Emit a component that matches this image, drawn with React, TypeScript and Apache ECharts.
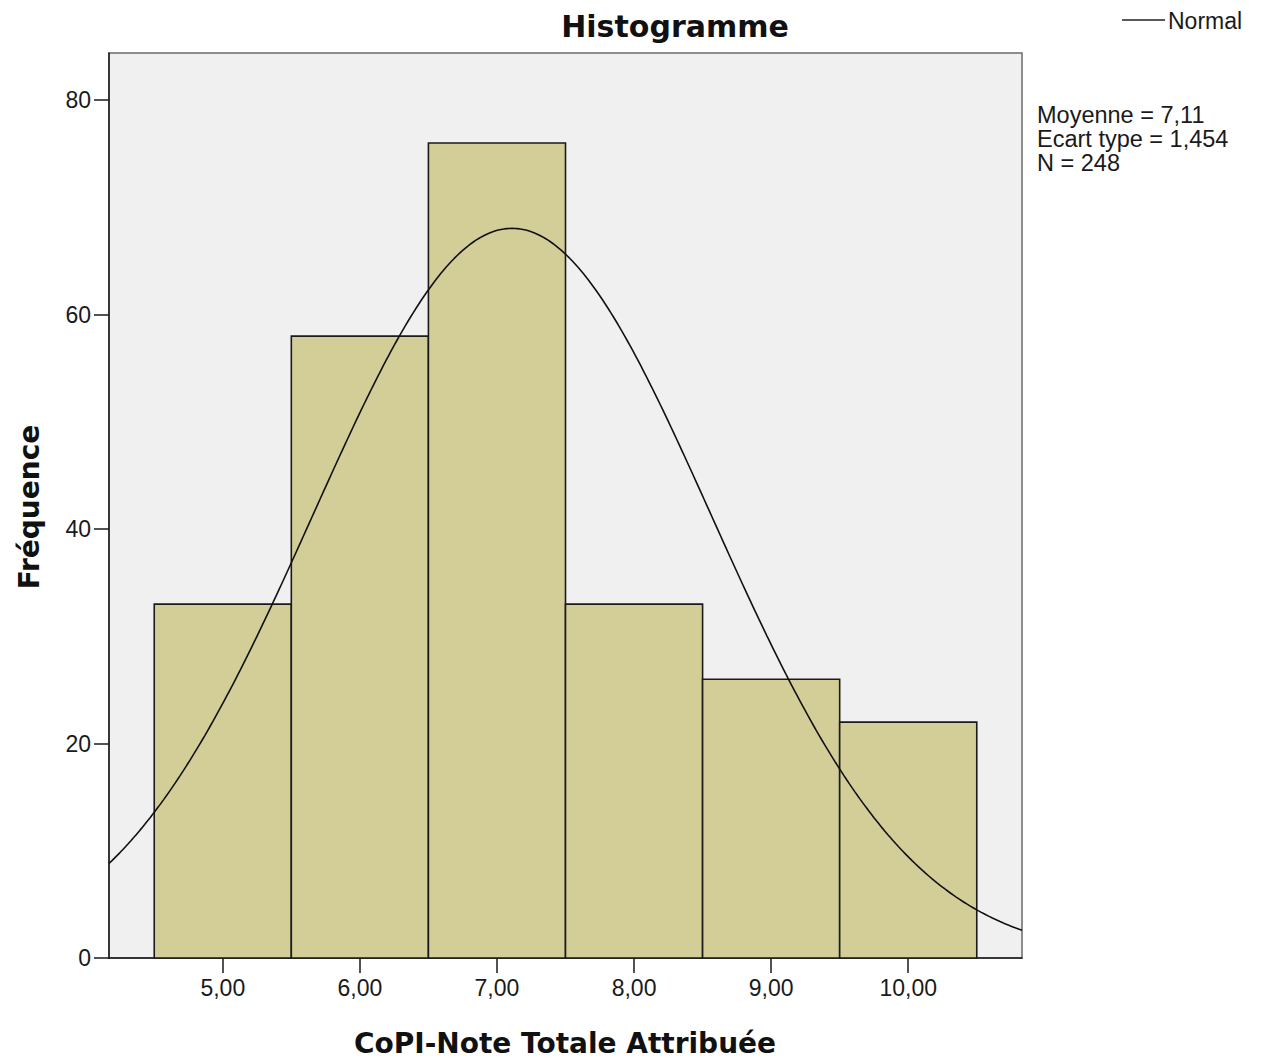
import React, { useEffect, useRef } from "react";
import * as echarts from "echarts";

// ---- data ----
const binStarts = [4.5, 5.5, 6.5, 7.5, 8.5, 9.5];
const binEnds = [5.5, 6.5, 7.5, 8.5, 9.5, 10.5];
const counts = [33, 58, 76, 33, 26, 22];
const xTicks = [5, 6, 7, 8, 9, 10];
const yTicks = [0, 20, 40, 60, 80];
const mean = 7.11;
const sd = 1.454;
const n = 248;
const binWidth = 1;
const xMin = 4.17;
const xMax = 10.83;
const yMax = 84.4;

// Normal curve defined by the displayed statistics (Moyenne, Ecart type, N)
const normalCurve: number[][] = [];
for (let i = 0; i <= 333; i++) {
  const x = xMin + ((xMax - xMin) * i) / 333;
  const z = (x - mean) / sd;
  const y = (n * binWidth * Math.exp(-0.5 * z * z)) / (sd * Math.sqrt(2 * Math.PI));
  normalCurve.push([x, y]);
}

const barData = binStarts.map((s, i) => [s, binEnds[i], counts[i]]);

const REG = "'Liberation Sans', Arial, sans-serif";
const BOLD = "'DejaVu Sans', sans-serif";

export default function App() {
  const ref = useRef<HTMLDivElement>(null);
  useEffect(() => {
    if (!ref.current) return;
    const chart = echarts.init(ref.current, null, { renderer: "svg" });
    const statStyle = (text: string) => ({
      text,
      fontFamily: REG,
      fontSize: 23.5,
      fill: "#1a1a1a",
      textAlign: "left",
      textVerticalAlign: "middle",
    });
    chart.setOption({
      animation: false,
      backgroundColor: "#ffffff",
      grid: {
        left: 109,
        right: 239,
        top: 53,
        bottom: 103,
        show: true,
        backgroundColor: "#f0f0f0",
        borderColor: "#6a6a6a",
        borderWidth: 1.5,
      },
      xAxis: {
        type: "value",
        min: xMin,
        max: xMax,
        splitLine: { show: false },
        axisLine: { show: true, onZero: false, lineStyle: { color: "#1a1a1a", width: 1.5 } },
        axisTick: {
          show: true,
          inside: false,
          length: 15,
          customValues: xTicks,
          lineStyle: { color: "#1a1a1a", width: 1.5 },
        },
        axisLabel: {
          customValues: xTicks,
          margin: 18,
          color: "#1a1a1a",
          fontFamily: REG,
          fontSize: 23,
          formatter: (v: number) => v.toFixed(2).replace(".", ","),
        },
      },
      yAxis: {
        type: "value",
        min: 0,
        max: yMax,
        splitLine: { show: false },
        axisLine: { show: true, onZero: false, lineStyle: { color: "#1a1a1a", width: 1.5 } },
        axisTick: {
          show: true,
          inside: false,
          length: 15,
          customValues: yTicks,
          lineStyle: { color: "#1a1a1a", width: 1.5 },
        },
        axisLabel: {
          customValues: yTicks,
          margin: 18,
          color: "#1a1a1a",
          fontFamily: REG,
          fontSize: 23,
        },
      },
      series: [
        {
          type: "custom",
          data: barData,
          encode: { x: [0, 1], y: 2 },
          z: 2,
          renderItem: (params: any, api: any) => {
            const lo = api.value(0);
            const hi = api.value(1);
            const c = api.value(2);
            const p1 = api.coord([lo, c]);
            const p2 = api.coord([hi, 0]);
            return {
              type: "rect",
              shape: { x: p1[0], y: p1[1], width: p2[0] - p1[0], height: p2[1] - p1[1] },
              style: { fill: "#d3ce98", stroke: "#1a1a1a", lineWidth: 1.6 },
            };
          },
        },
        {
          type: "line",
          data: normalCurve,
          showSymbol: false,
          symbol: "none",
          smooth: false,
          z: 3,
          lineStyle: { color: "#111111", width: 1.6 },
        },
      ],
      graphic: [
        {
          type: "text",
          x: 675,
          y: 26,
          style: {
            text: "Histogramme",
            fontFamily: BOLD,
            fontWeight: "bold",
            fontSize: 30,
            fill: "#111",
            textAlign: "center",
            textVerticalAlign: "middle",
          },
        },
        {
          type: "text",
          x: 565,
          y: 1043,
          style: {
            text: "CoPI-Note Totale Attribuée",
            fontFamily: BOLD,
            fontWeight: "bold",
            fontSize: 28,
            fill: "#111",
            textAlign: "center",
            textVerticalAlign: "middle",
          },
        },
        {
          type: "text",
          x: 29,
          y: 507,
          rotation: Math.PI / 2,
          style: {
            text: "Fréquence",
            fontFamily: BOLD,
            fontWeight: "bold",
            fontSize: 28,
            fill: "#111",
            textAlign: "center",
            textVerticalAlign: "middle",
          },
        },
        {
          type: "line",
          shape: { x1: 1122, y1: 20, x2: 1165, y2: 20 },
          style: { stroke: "#222", lineWidth: 1.5 },
        },
        {
          type: "text",
          x: 1168,
          y: 21,
          style: {
            text: "Normal",
            fontFamily: REG,
            fontSize: 23,
            fill: "#1a1a1a",
            textAlign: "left",
            textVerticalAlign: "middle",
          },
        },
        { type: "text", x: 1037, y: 115, style: statStyle("Moyenne = " + mean.toFixed(2).replace(".", ",")) },
        { type: "text", x: 1037, y: 139, style: statStyle("Ecart type = " + sd.toFixed(3).replace(".", ",")) },
        { type: "text", x: 1037, y: 163, style: statStyle("N = " + n) },
      ],
    });
    return () => chart.dispose();
  }, []);
  return <div ref={ref} style={{ width: 1261, height: 1061, position: "absolute", left: 0, top: 0 }} />;
}
